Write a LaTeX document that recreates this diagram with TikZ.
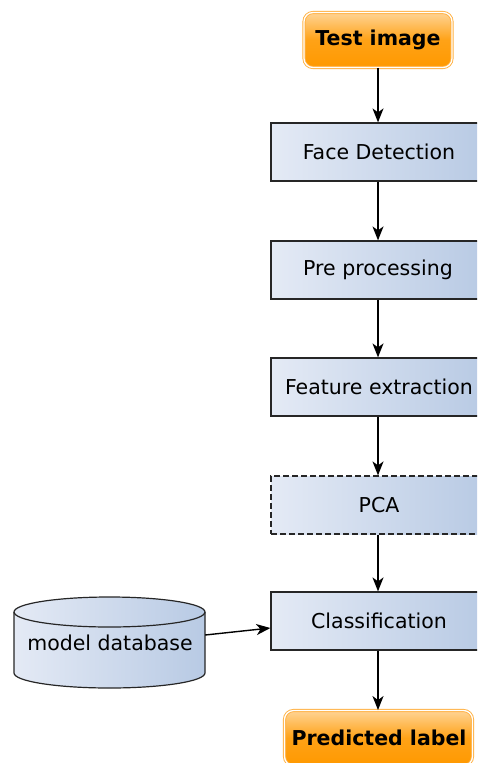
\documentclass[tikz,border=0pt]{standalone}
\usepackage{fontspec}
\setmainfont{DejaVu Sans}
\usetikzlibrary{arrows.meta}
\definecolor{bl}{HTML}{E4EAF5}
\definecolor{br}{HTML}{B8CAE4}
\definecolor{orT}{HTML}{FFD495}
\definecolor{orB}{HTML}{FF9900}
\definecolor{orE}{HTML}{FFB040}
\tikzset{
  txt/.style={font=\fontsize{20.5}{24}\selectfont},
  stepbox/.style={draw=black!85, line width=1.2pt, minimum width=214pt, minimum height=58pt,
    left color=bl, right color=br, inner sep=0pt},
  termbox/.style={draw=orE, line width=0.9pt, double=white, double distance=1.3pt, rounded corners=9pt,
    top color=orT, bottom color=orB, middle color=orB!85!orT, inner sep=0pt, minimum height=55pt},
  conn/.style={-{Stealth[length=14pt,width=11pt,inset=4pt]}, line width=1.4pt, black},
}
\begin{document}
\begin{tikzpicture}[x=1pt,y=-1pt]
\useasboundingbox (0,0) rectangle (477,763);
\begin{scope}
\clip (0,0) rectangle (477,763);
\node[termbox, minimum width=148pt] (test) at (378,40) {};
\node[stepbox] (face) at (378,152) {};
\node[stepbox] (pre) at (378,270) {};
\node[stepbox] (feat) at (378,387) {};
\node[stepbox, dashed, dash pattern=on 6pt off 3pt] (pca) at (378,505) {};
\node[stepbox] (cls) at (378,621) {};
\node[termbox, minimum width=188pt] (pred) at (378.5,738) {};
\end{scope}
% database cylinder
\shade[left color=bl, right color=br]
  (14,612) -- (14,673) arc[start angle=180, end angle=360, x radius=95.5pt, y radius=15pt]
  -- (205,612) arc[start angle=0, end angle=180, x radius=95.5pt, y radius=15pt] -- cycle;
\draw[black!85, line width=1.2pt]
  (14,612) -- (14,673) arc[start angle=180, end angle=360, x radius=95.5pt, y radius=15pt]
  -- (205,612);
\draw[black!85, line width=1.2pt] (109.5,612) ellipse[x radius=95.5pt, y radius=15pt];
\node[inner sep=0pt, minimum width=191pt, minimum height=91pt] (db) at (109.5,642.5) {};
% texts
\node[txt, font=\bfseries\fontsize{20.5}{24}\selectfont] (testt) at (378,40) {Test image};
\node[txt] (facet) at (379,152) {Face Detection};
\node[txt] (pret) at (378,270) {Pre processing};
\node[txt] (featt) at (379,387) {Feature extraction};
\node[txt] (pcat) at (379,505) {PCA};
\node[txt] (clst) at (379,621) {Classification};
\node[txt, font=\bfseries\fontsize{20.5}{24}\selectfont] (predt) at (379,738) {Predicted label};
\node[txt] (dbt) at (110,643) {model database};
% connectors
\draw[conn] (test.south) -- (face.north);
\draw[conn] (face.south) -- (pre.north);
\draw[conn] (pre.south) -- (feat.north);
\draw[conn] (feat.south) -- (pca.north);
\draw[conn] (pca.south) -- (cls.north);
\draw[conn] (cls.south) -- (cls.south |- pred.north);
\draw[conn] (db.east |- 0,635) -- (cls.west |- 0,628);
\end{tikzpicture}
\end{document}
